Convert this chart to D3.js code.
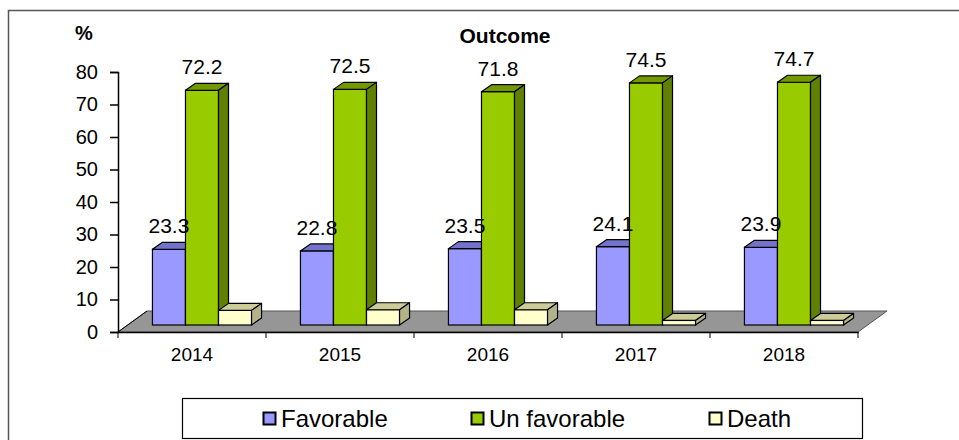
<!DOCTYPE html>
<html>
<head>
	<meta charset="utf-8">
	<style>
		body { margin: 0; background: #fff; }
		text { font-family: "Liberation Sans", Arial, sans-serif; }
	</style>
</head>
<body>
	<script src="https://cdn.jsdelivr.net/npm/d3@7"></script>

	<script>
		const years = ['2014', '2015', '2016', '2017', '2018'];
		const favorable = [23.3, 22.8, 23.5, 24.1, 23.9];
		const unfavorable = [72.2, 72.5, 71.8, 74.5, 74.7];
		const death = [4.5, 4.7, 4.7, 1.4, 1.4];
		const seriesNames = ['Favorable', 'Un favorable', 'Death'];
		const yTicks = [0, 10, 20, 30, 40, 50, 60, 70, 80];

		const colors = {
			'Favorable':    { front: '#9999ff', top: '#7373cc', side: '#5c5ca3' },
			'Un favorable': { front: '#99cc00', top: '#739900', side: '#5f8000' },
			'Death':        { front: '#ffffcc', top: '#cccc99', side: '#b3b38a' }
		};

		const W = 959, H = 440;
		const plotLeft = 118, plotRight = 858, base = 332, plotTop = 72;
		// depth of floor and of bars (oblique projection)
		const floorDx = 29, floorDy = -21;
		const barDx = 10, barDy = -7;

		const svg = d3.select('body')
			.append('svg')
			.attr('width', W)
			.attr('height', H);

		// outer chart frame (cut off on right/bottom)
		svg.append('path')
			.attr('d', `M8.5,${H} V10.5 H${W}`)
			.attr('fill', 'none')
			.attr('stroke', '#555')
			.attr('stroke-width', 1.5);

		const x = d3.scaleBand().domain(years).range([plotLeft, plotRight]);
		const xs = d3.scaleBand().domain(seriesNames).range([0, x.bandwidth()]).paddingOuter(0.74);
		const y = d3.scaleLinear().domain([0, 80]).range([base, plotTop]);

		const rows = years.map((yr, i) => ({
			year: yr,
			values: [
				{ key: 'Favorable', value: favorable[i] },
				{ key: 'Un favorable', value: unfavorable[i] },
				{ key: 'Death', value: death[i] }
			]
		}));

		// floor
		svg.append('path')
			.attr('d', `M${plotLeft},${base} L${plotLeft + floorDx},${base + floorDy} L${plotRight + floorDx},${base + floorDy} L${plotRight},${base} Z`)
			.attr('fill', '#969696')
			.attr('stroke', '#555')
			.attr('stroke-width', 1);
		svg.append('line')
			.attr('x1', plotLeft).attr('y1', base)
			.attr('x2', plotLeft + floorDx).attr('y2', base + floorDy)
			.attr('stroke', '#000');

		// axes
		const yAxis = d3.axisLeft(y).tickValues(yTicks).tickSize(8).tickPadding(12);
		const yg = svg.append('g').attr('transform', `translate(${plotLeft},0)`).call(yAxis);
		yg.select('.domain').attr('stroke', '#000').attr('stroke-width', 1.5);
		yg.selectAll('.tick line').attr('stroke', '#000').attr('stroke-width', 1.5);
		yg.selectAll('.tick text').attr('font-size', 20).attr('fill', '#000')
			.attr('font-family', '"Liberation Sans", Arial, sans-serif');

		const xAxis = d3.axisBottom(x).tickSize(0).tickPadding(16);
		const xg = svg.append('g').attr('transform', `translate(0,${base})`).call(xAxis);
		xg.select('.domain').attr('stroke', '#000').attr('stroke-width', 1.5);
		xg.selectAll('.tick text').attr('font-size', 19).attr('fill', '#000')
			.attr('font-family', '"Liberation Sans", Arial, sans-serif');
		// tick marks on band edges
		xg.selectAll('.edge')
			.data(years.concat(['end']))
			.join('line')
			.attr('x1', (d, i) => i < years.length ? x(d) : x.range()[1])
			.attr('x2', (d, i) => i < years.length ? x(d) : x.range()[1])
			.attr('y1', 0).attr('y2', 6)
			.attr('stroke', '#000').attr('stroke-width', 1);

		// bars
		const by = base + barDy;
		const groups = svg.append('g').selectAll('g')
			.data(rows)
			.join('g');

		groups.each(function (row) {
			const g = d3.select(this);
			row.values.forEach(v => {
				const x0 = x(row.year) + xs(v.key) + barDx;
				const x1 = x0 + xs.bandwidth();
				const yt = by - (base - y(v.value));
				const c = colors[v.key];
				// front
				g.append('rect')
					.attr('x', x0).attr('y', yt)
					.attr('width', x1 - x0).attr('height', by - yt)
					.attr('fill', c.front).attr('stroke', '#000').attr('stroke-width', 1.2);
				// top
				g.append('path')
					.attr('d', `M${x0},${yt} L${x0 + barDx},${yt + barDy} L${x1 + barDx},${yt + barDy} L${x1},${yt} Z`)
					.attr('fill', c.top).attr('stroke', '#000').attr('stroke-width', 1.2)
					.attr('stroke-linejoin', 'round');
				// side
				g.append('path')
					.attr('d', `M${x1},${yt} L${x1 + barDx},${yt + barDy} L${x1 + barDx},${by + barDy} L${x1},${by} Z`)
					.attr('fill', c.side).attr('stroke', '#000').attr('stroke-width', 1.2)
					.attr('stroke-linejoin', 'round');
			});
		});

		// value labels (favorable and un favorable only)
		groups.each(function (row) {
			const g = d3.select(this);
			row.values.slice(0, 2).forEach(v => {
				const cx = x(row.year) + xs(v.key) + barDx + xs.bandwidth() / 2;
				const yt = by - (base - y(v.value));
				g.append('text')
					.attr('x', cx).attr('y', yt - 16)
					.attr('text-anchor', 'middle')
					.attr('font-size', 21)
					.text(v.value.toFixed(1));
			});
		});

		// titles
		svg.append('text')
			.attr('x', 505).attr('y', 43)
			.attr('text-anchor', 'middle')
			.attr('font-size', 21).attr('font-weight', 'bold')
			.text('Outcome');
		svg.append('text')
			.attr('x', 75).attr('y', 40)
			.attr('font-size', 20).attr('font-weight', 'bold')
			.text('%');

		// legend
		const legend = svg.append('g');
		legend.append('rect')
			.attr('x', 182.5).attr('y', 398.5)
			.attr('width', 680).attr('height', 40)
			.attr('fill', '#fff').attr('stroke', '#000').attr('stroke-width', 1.2);
		const legendX = [263, 471, 709];
		const items = legend.selectAll('g.item')
			.data(seriesNames)
			.join('g')
			.attr('class', 'item')
			.attr('transform', (d, i) => `translate(${legendX[i]},412)`);
		items.append('rect')
			.attr('x', 0.5).attr('y', 0.5)
			.attr('width', 12).attr('height', 12)
			.attr('fill', d => colors[d].front)
			.attr('stroke', '#000').attr('stroke-width', 2);
		items.append('text')
			.attr('x', 18).attr('y', 15)
			.attr('font-size', 24)
			.text(d => d);
	</script>
</body>
</html>
